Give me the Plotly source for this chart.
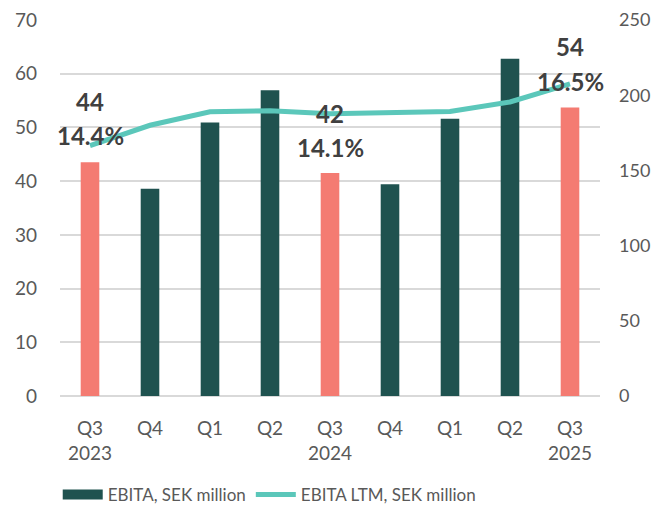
import plotly.graph_objects as go

quarters = ["Q3<br>2023", "Q4", "Q1", "Q2", "Q3<br>2024", "Q4", "Q1", "Q2", "Q3<br>2025"]
cat_ids = ["Q3 2023", "Q4 2023", "Q1 2024", "Q2 2024", "Q3 2024", "Q4 2024", "Q1 2025", "Q2 2025", "Q3 2025"]
ebita = [43.5, 38.6, 50.9, 56.9, 41.5, 39.4, 51.6, 62.8, 53.7]
ebita_ltm = [166.5, 180, 189, 189.6, 187.6, 188, 189.2, 195.5, 207.5]
highlight = [True, False, False, False, True, False, False, False, True]
label_value = ["44", None, None, None, "42", None, None, None, "54"]
label_margin = ["14.4%", None, None, None, "14.1%", None, None, None, "16.5%"]

DARK = "#1F524F"
SALMON = "#F47B72"
LINE = "#5BC7BA"
TEXT = "#595959"
FONT = "Lato, Open Sans, sans-serif"

bar_colors = [SALMON if h else DARK for h in highlight]

fig = go.Figure()
fig.add_trace(go.Bar(
    x=cat_ids, y=ebita, name="EBITA, SEK million",
    marker=dict(color=bar_colors, line=dict(width=0)),
    width=0.31, yaxis="y", showlegend=False,
))
# legend entry for the bars (wide rectangle swatch)
fig.add_trace(go.Scatter(
    x=[None], y=[None], name="EBITA, SEK million", mode="lines",
    line=dict(color=DARK, width=14), showlegend=True,
))
fig.add_trace(go.Scatter(
    x=cat_ids, y=ebita_ltm, name="EBITA LTM, SEK million",
    mode="lines", line=dict(color=LINE, width=5), yaxis="y2",
))

# the page's body has an 8px margin; size the figure so it fits the window
W, H = 645, 505
M_L, M_R, M_T, M_B = 52, 53, 12, 117
P_TOP, P_BOT = M_T, H - M_B

annotations = []
label_rows = {"Q3 2023": (101, 136), "Q3 2024": (113, 147), "Q3 2025": (47, 81)}
for c, v, m in zip(cat_ids, label_value, label_margin):
    if v is None:
        continue
    y1, y2 = label_rows[c]
    for txt, ypix in ((v, y1), (m, y2)):
        yfig = ypix - 8
        annotations.append(dict(
            x=c, xref="x", y=(P_BOT - yfig) / (P_BOT - P_TOP), yref="paper",
            text=f"<b>{txt}</b>", showarrow=False, yanchor="middle",
            font=dict(family=FONT, size=24, color="#404040"),
        ))

fig.update_layout(
    width=W, height=H,
    margin=dict(l=M_L, r=M_R, t=M_T, b=M_B),
    paper_bgcolor="white", plot_bgcolor="white",
    font=dict(family=FONT, size=18, color=TEXT),
    showlegend=True,
    legend=dict(orientation="h", x=0.405, xanchor="center", xref="container",
                y=0, yanchor="bottom", yref="container",
                font=dict(family=FONT, size=17, color=TEXT), itemwidth=40,
                traceorder="normal"),
    xaxis=dict(type="category", tickvals=cat_ids, ticktext=quarters,
               range=[-0.5, 8.5], showgrid=False, showline=False, ticks="",
               ticklabelstandoff=19, automargin=False,
               tickfont=dict(size=19, color=TEXT)),
    yaxis=dict(range=[0, 70], dtick=10, showgrid=True, gridcolor="#D9D9D9", gridwidth=1.5,
               zeroline=True, zerolinecolor="#D9D9D9", zerolinewidth=1.5,
               showline=False, ticks="", ticklabelstandoff=22, automargin=False,
               ticklabeloverflow="allow", tickfont=dict(size=19, color=TEXT)),
    yaxis2=dict(range=[0, 250], dtick=50, overlaying="y", side="right", showgrid=False,
                zeroline=False, showline=False, ticks="", ticklabelstandoff=18,
                automargin=False, ticklabeloverflow="allow",
                tickfont=dict(size=18, color=TEXT)),
    annotations=annotations,
)

fig.write_html("out.html")
